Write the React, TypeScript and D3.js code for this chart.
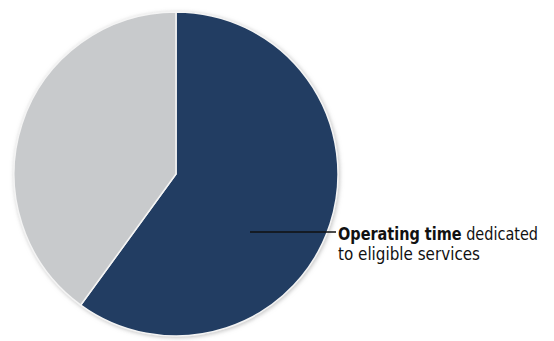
import React from "react";
import * as d3 from "d3";

const categories = ["Operating time dedicated to eligible services", "Other operating time"];
const values = [60, 40];
const colors = ["#213d62", "#c8cacc"];
const labelBold = "Operating time";
const labelRest = " dedicated";
const labelLine2 = "to eligible services";

export default function App() {
  const W = 554, H = 341;
  const cx = 176, cy = 174, r = 162;
  const pie = d3.pie<number>().sort(null).value((d) => d)(values);
  const arc = d3.arc<d3.PieArcDatum<number>>().innerRadius(0).outerRadius(r);
  const lx0 = 250, lx1 = 336, ly = 232;
  const font = "'DejaVu Sans Condensed', 'DejaVu Sans', sans-serif";
  return (
    <svg width={W} height={H} style={{ position: "absolute", left: 0, top: 0 }}>
      <defs>
        <filter id="sh" x="-10%" y="-10%" width="120%" height="120%">
          <feGaussianBlur in="SourceAlpha" stdDeviation="2" />
          <feOffset dx="1" dy="1" result="b" />
          <feFlood floodColor="#999" floodOpacity="0.6" />
          <feComposite in2="b" operator="in" />
          <feMerge>
            <feMergeNode />
            <feMergeNode in="SourceGraphic" />
          </feMerge>
        </filter>
      </defs>
      <rect width={W} height={H} fill="#ffffff" />
      <g transform={`translate(${cx},${cy})`} filter="url(#sh)">
        {pie.map((p, i) => (
          <path key={categories[i]} d={arc(p) || ""} fill={colors[i]} stroke="#f4f4f4" strokeWidth={1.5} />
        ))}
      </g>
      <line x1={lx0} y1={ly} x2={lx1} y2={ly} stroke="#111" strokeWidth={1.3} />
      <text x={lx1 + 2} y={240} fontFamily={font} fontSize={17} fill="#111"
        textLength={200} lengthAdjust="spacingAndGlyphs">
        <tspan fontWeight="bold">{labelBold}</tspan>
        <tspan>{labelRest}</tspan>
      </text>
      <text x={lx1 + 2} y={260} fontFamily={font} fontSize={17} fill="#111"
        textLength={142} lengthAdjust="spacingAndGlyphs">
        {labelLine2}
      </text>
    </svg>
  );
}
